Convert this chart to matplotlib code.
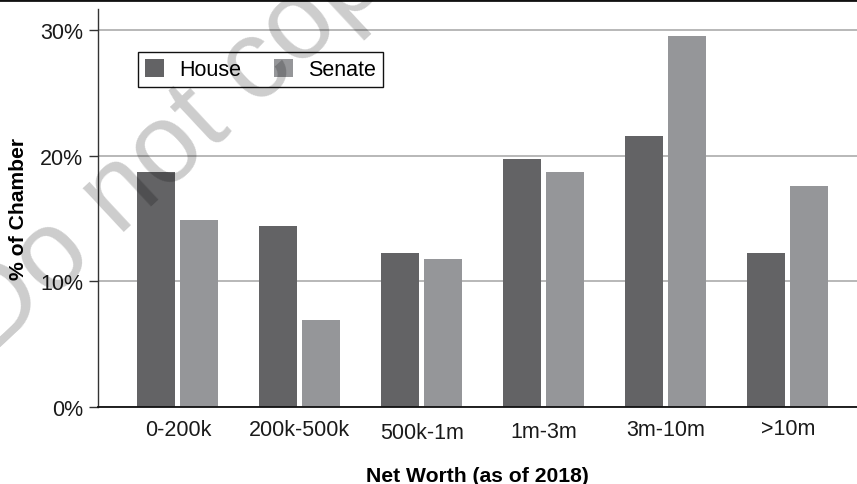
import matplotlib
matplotlib.use("Agg")
import matplotlib.pyplot as plt
import matplotlib.transforms as mtransforms
from matplotlib.lines import Line2D
import numpy as np

plt.rcParams['font.family'] = ['Liberation Sans', 'DejaVu Sans']

# data (percent of chamber)
categories = ["0-200k", "200k-500k", "500k-1m", "1m-3m", "3m-10m", ">10m"]
house = [18.7, 14.4, 12.25, 19.7, 21.6, 12.25]
senate = [14.9, 6.9, 11.8, 18.7, 29.5, 17.6]
y_ticks = [0, 10, 20, 30]
y_ticklabels = ["0%", "10%", "20%", "30%"]

house_color = "#636365"
senate_color = "#959699"

fig = plt.figure(figsize=(8.57, 4.85), dpi=100)
ax = fig.add_axes([98 / 857, 1 - 408 / 485, 1 - 98 / 857, 398 / 485])

x = np.arange(len(categories))
w = 0.311
off = 0.176
ax.bar(x - off, house, width=w, color=house_color, label="House", zorder=2)
ax.bar(x + off, senate, width=w, color=senate_color, label="Senate", zorder=2)

ax.set_xlim(-0.655, 5.566)
ax.set_ylim(0, 31.67)

# axes styling
for s in ["top", "right"]:
    ax.spines[s].set_visible(False)
ax.spines["left"].set_color("#333333")
ax.spines["left"].set_linewidth(1.0)
ax.spines["bottom"].set_color("#111111")
ax.spines["bottom"].set_linewidth(1.3)

ax.set_yticks(y_ticks)
ax.set_yticklabels(y_ticklabels, fontsize=15.5, color="#1a1a1a")
ax.tick_params(axis="y", length=6.5, width=1.0, color="#333333", pad=4)
ax.set_xticks(x)
ax.set_xticklabels(categories, fontsize=15.5, color="#1a1a1a")
ax.tick_params(axis="x", length=0, pad=9)

# slight vertical jitter of the x tick labels as in the original
label_dy = [0, 0, -3, -2, 0, 1]
for lab, dy in zip(ax.get_xticklabels(), label_dy):
    lab.set_transform(lab.get_transform() +
                      mtransforms.ScaledTranslation(0, dy / 100, fig.dpi_scale_trans))

ax.yaxis.grid(True, color="#a4a4a4", linewidth=1.1, zorder=0)
ax.set_axisbelow(True)

ax.set_xlabel("Net Worth (as of 2018)", fontsize=15.2, fontweight="bold")
ax.xaxis.set_label_coords(0.5, -0.148)
ax.set_ylabel("% of Chamber", fontsize=15.2, fontweight="bold")
ax.yaxis.set_label_coords(-0.092, 0.5)

leg = ax.legend(loc="upper left", bbox_to_anchor=(0.053, 0.892), ncol=2,
                fontsize=15.5, frameon=True, fancybox=False, framealpha=1,
                edgecolor="#111111", handlelength=0.9, handleheight=0.9,
                handletextpad=0.7, columnspacing=1.5, borderpad=0.32,
                borderaxespad=0)
leg.get_frame().set_linewidth(1.0)

# black rule along the top edge
fig.add_artist(Line2D([0, 1], [0.998, 0.998], transform=fig.transFigure,
                      color="#111111", linewidth=2))

# watermark
fig.text(210 / 857, 1 - 152 / 485, "Do not copy", fontsize=81, rotation=43,
         rotation_mode="anchor", ha="center", va="baseline",
         color="black", alpha=0.2, zorder=10)

fig.savefig("out.png", dpi=100)
